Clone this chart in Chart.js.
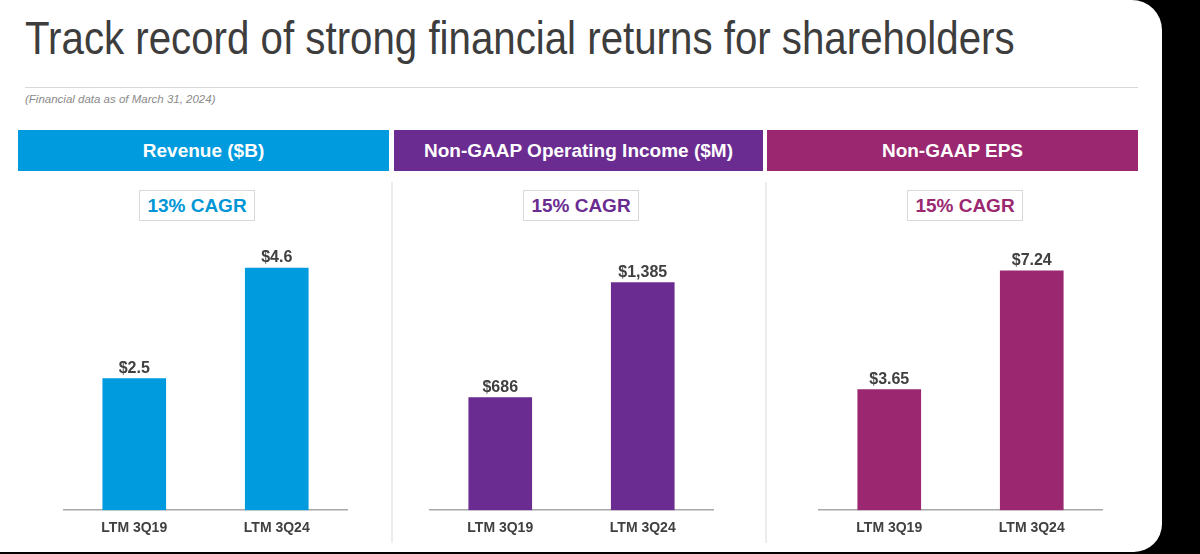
<!DOCTYPE html>
<html>
<head>
<meta charset="utf-8">
<script src="https://cdn.jsdelivr.net/npm/chart.js@4/dist/chart.umd.min.js"></script>
<style>
  html, body { margin: 0; padding: 0; }
  body { width: 1200px; height: 554px; background: #000; position: relative; overflow: hidden; font-family: 'Liberation Sans', Arial, sans-serif; }
  .slide { position: absolute; left: 0; top: 0; width: 1162px; height: 552px; background: #fff; border-radius: 0 30px 28px 0; }
  .title { position: absolute; left: 25px; top: 11px; font-family: 'Liberation Sans Narrow', 'Arial Narrow', 'Liberation Sans', sans-serif; font-size: 46px; line-height: 54px; color: #3d3d3d; white-space: nowrap; transform: scaleX(0.875); transform-origin: left top; }
  .rule { position: absolute; left: 25px; top: 87px; width: 1113px; height: 1px; background: #d5d9dd; }
  .note { position: absolute; left: 25px; top: 93px; font-family: 'Liberation Sans Narrow', 'Arial Narrow', 'Liberation Sans', sans-serif; font-style: italic; font-size: 11.5px; color: #8a8a8a; }
  .head { position: absolute; top: 130px; height: 41px; line-height: 41px; color: #fff; font-weight: bold; font-size: 19px; text-align: center; }
  .cagr { position: absolute; top: 190px; height: 29px; line-height: 29px; border: 1px solid #d9d9d9; font-weight: bold; font-size: 19px; text-align: center; box-sizing: content-box; }
  .sep { position: absolute; top: 182px; width: 2px; height: 361px; background: #ececec; }
  canvas { position: absolute; }
</style>
</head>
<body>
<div class="slide">
  <div class="title">Track record of strong financial returns for shareholders</div>
  <div class="rule"></div>
  <div class="note">(Financial data as of March 31, 2024)</div>

  <div class="head" style="left:18px;width:371px;background:#009bde">Revenue ($B)</div>
  <div class="head" style="left:394px;width:369px;background:#6a2c91">Non-GAAP Operating Income ($M)</div>
  <div class="head" style="left:767px;width:371px;background:#9b2770">Non-GAAP EPS</div>

  <div class="cagr" style="left:139px;width:114px;color:#0096d6">13% CAGR</div>
  <div class="cagr" style="left:523px;width:114px;color:#6a2c91">15% CAGR</div>
  <div class="cagr" style="left:907px;width:114px;color:#9b2770">15% CAGR</div>

  <div class="sep" style="left:391px"></div>
  <div class="sep" style="left:765px"></div>

  <canvas id="revChart" width="285" height="326" style="left:63px;top:225px"></canvas>
  <canvas id="oiChart" width="285" height="326" style="left:429px;top:225px"></canvas>
  <canvas id="epsChart" width="285" height="326" style="left:818px;top:225px"></canvas>
</div>

<script>
const periods = ['LTM 3Q19', 'LTM 3Q24'];
const revenue = [2.5, 4.6];
const operatingIncome = [686, 1385];
const eps = [3.65, 7.24];

// value labels above each bar
const barLabels = {
  id: 'barLabels',
  afterDatasetsDraw(chart, args, opts) {
    const ctx = chart.ctx;
    const ds = chart.data.datasets[0];
    chart.getDatasetMeta(0).data.forEach((bar, i) => {
      ctx.save();
      ctx.font = 'bold 16px "Liberation Sans", Arial, sans-serif';
      ctx.fillStyle = '#404040';
      ctx.textAlign = 'center';
      ctx.textBaseline = 'alphabetic';
      ctx.fillText(opts.format(ds.data[i]), bar.x, bar.y - 6);
      ctx.restore();
    });
  }
};

function makeChart(id, values, color, yMax, format) {
  return new Chart(document.getElementById(id), {
    type: 'bar',
    data: {
      labels: periods,
      datasets: [{
        data: values,
        backgroundColor: color,
        barThickness: 63
      }]
    },
    options: {
      responsive: false,
      animation: false,
      layout: { padding: { top: 0, bottom: 4, left: 0, right: 0 } },
      scales: {
        x: {
          grid: { display: false, drawTicks: false },
          border: { display: true, color: '#a8a8a8', width: 1.5 },
          ticks: {
            color: '#404040',
            padding: 10,
            font: { family: '"Liberation Sans", Arial, sans-serif', size: 14, weight: 'bold' }
          }
        },
        y: { display: false, min: 0, max: yMax }
      },
      plugins: {
        legend: { display: false },
        tooltip: { enabled: false },
        barLabels: { format: format }
      }
    },
    plugins: [barLabels]
  });
}

makeChart('revChart', revenue, '#009bde', 5.42, v => '$' + v.toFixed(1));
makeChart('oiChart', operatingIncome, '#6a2c91', 1736, v => '$' + v.toLocaleString('en-US'));
makeChart('epsChart', eps, '#9b2770', 8.63, v => '$' + v.toFixed(2));
</script>
</body>
</html>
